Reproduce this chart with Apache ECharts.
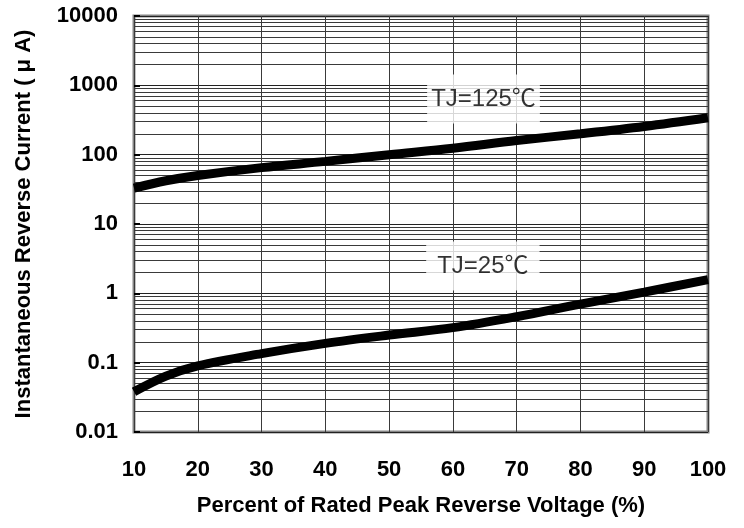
<!DOCTYPE html>
<html>
<head>
<meta charset="utf-8">
<script src="https://cdn.jsdelivr.net/npm/echarts@6/dist/echarts.min.js"></script>
<style>
html,body{margin:0;padding:0;background:#fff;}
#chart{width:744px;height:528px;}
</style>
</head>
<body>
<div id="chart"></div>
<script>
// ---- data ----
var voltagePct = [10, 15, 20, 30, 40, 50, 60, 70, 80, 90, 100];
var current125 = [33, 42, 50, 65, 80, 100, 124, 160, 200, 255, 340];
var current25  = [0.038, 0.064, 0.09, 0.135, 0.19, 0.25, 0.32, 0.46, 0.70, 1.04, 1.58];
var labelTexts = ['TJ=125℃', 'TJ=25℃'];
var labelAnchors = [[64.8, 635], [64.7, 2.48]];
var xTicks = [10, 20, 30, 40, 50, 60, 70, 80, 90, 100];
var yDecades = [0.01, 0.1, 1, 10, 100, 1000, 10000];
var mantissas = [2, 3, 4, 5, 6, 7, 8, 9];

var minorLevels = [];
for (var d = 0; d < yDecades.length - 1; d++) {
  for (var m = 0; m < mantissas.length; m++) {
    minorLevels.push(+(yDecades[d] * mantissas[m]).toPrecision(6));
  }
}

function pairs(xs, ys) { return xs.map(function (x, i) { return [x, ys[i]]; }); }

var FONT = "'Liberation Sans', Arial, 'Noto Sans CJK SC', sans-serif";
var chart = echarts.init(document.getElementById('chart'), null, {renderer: 'canvas'});
chart.setOption({
  animation: false,
  backgroundColor: '#fff',
  grid: {left: 134, right: 36, top: 16, bottom: 96, show: true, borderColor: '#858585', borderWidth: 3, backgroundColor: 'transparent'},
  xAxis: {
    type: 'value', min: 10, max: 100, interval: 10,
    axisLine: {show: false}, axisTick: {show: false},
    splitLine: {show: true, lineStyle: {color: '#3a3a3a', width: 1}},
    axisLabel: {margin: 27, fontSize: 22, fontWeight: 'bold', color: '#000', fontFamily: FONT,
      formatter: function (v) { return String(v); }},
    name: 'Percent of Rated Peak Reverse Voltage (%)',
    nameLocation: 'middle', nameGap: 63,
    nameTextStyle: {fontSize: 22, fontWeight: 'bold', color: '#000', fontFamily: FONT}
  },
  yAxis: {
    type: 'log', logBase: 10, min: 0.01, max: 10000,
    axisLine: {show: false},
    axisTick: {show: true, inside: true, length: 6, lineStyle: {color: '#000', width: 2}},
    splitLine: {show: true, lineStyle: {color: '#222', width: 1}},
    axisLabel: {margin: 16, fontSize: 22, fontWeight: 'bold', color: '#000', fontFamily: FONT,
      formatter: function (v) { return String(+(+v).toPrecision(6)); }},
    name: 'Instantaneous Reverse Current ( μ A)',
    nameLocation: 'middle', nameGap: 99,
    nameTextStyle: {fontSize: 22, fontWeight: 'bold', color: '#000', fontFamily: FONT}
  },
  series: [
    {
      type: 'line', silent: true, data: [], symbol: 'none',
      markLine: {
        silent: true, symbol: 'none', animation: false,
        label: {show: false},
        lineStyle: {type: 'solid', color: '#3a3a3a', width: 1},
        emphasis: {disabled: true},
        data: minorLevels.map(function (v) { return {yAxis: v}; })
      }
    },
    {
      type: 'line', data: pairs(voltagePct, current125), smooth: 0.35,
      symbol: 'none', lineStyle: {color: '#000', width: 9}, z: 5
    },
    {
      type: 'line', data: pairs(voltagePct, current25), smooth: 0.35,
      symbol: 'none', lineStyle: {color: '#000', width: 9}, z: 5
    },
    {
      type: 'scatter', symbolSize: 0, z: 10, silent: true,
      data: [
        {value: labelAnchors[0], label: {formatter: labelTexts[0], padding: [10, 4, 15, 4]}},
        {value: labelAnchors[1], label: {formatter: labelTexts[1], padding: [4, 11, 21, 11]}}
      ],
      label: {show: true, position: 'inside', color: '#000', fontSize: 24, fontFamily: FONT,
        backgroundColor: '#fff'}
    }
  ]
});
</script>
</body>
</html>
